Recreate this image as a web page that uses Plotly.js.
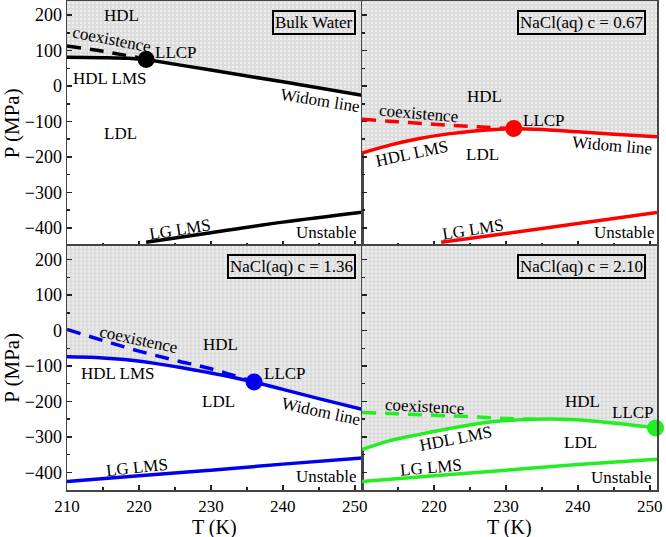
<!DOCTYPE html>
<html>
<head>
<meta charset="utf-8">
<script src="https://cdn.plot.ly/plotly-3.0.1.min.js"></script>
<style>html,body{margin:0;padding:0;background:#fff}</style>
</head>
<body>
<div id="chart" style="width:666px;height:537px"></div>
<script>
// ---- data (T in K, P in MPa) ----
const X_RANGE = [210, 251];
const Y_RANGE = [-450, 240];

// Bulk water (black)
const bulk_lms_T   = [210, 215, 219, 221];
const bulk_lms_P   = [81, 80, 78, 75];
const bulk_widom_T = [221, 230, 240, 251];
const bulk_widom_P = [75, 45, 12, -26];
const bulk_coex_T  = [210, 215, 221];
const bulk_coex_P  = [113, 98, 76];
const bulk_lg_T    = [221, 230, 240, 251];
const bulk_lg_P    = [-441, -414, -384, -356];
const bulk_llcp    = [221, 75];

// NaCl c = 0.67 (red)
const c067_lms_T   = [210, 214, 218, 222, 226, 231.1];
const c067_lms_P   = [-189, -166, -148, -135, -126, -120];
const c067_widom_T = [231.1, 236, 240, 245, 251];
const c067_widom_P = [-120, -124, -129, -136, -143];
const c067_coex_T  = [210, 215, 220, 225, 231.1];
const c067_coex_P  = [-94, -101, -108, -114, -120];
const c067_lg_T    = [221, 230, 240, 251];
const c067_lg_P    = [-441, -416, -388, -357];
const c067_llcp    = [231.1, -120];

// NaCl c = 1.36 (blue)
const c136_lms_T   = [210, 214, 218, 222, 226, 230, 233, 236];
const c136_lms_P   = [-74, -76, -82, -92, -105, -120, -132, -145];
const c136_widom_T = [236, 240, 245, 251];
const c136_widom_P = [-145, -166, -192, -222];
const c136_coex_T  = [210, 215, 220, 225, 230, 236];
const c136_coex_P  = [3, -28, -58, -84, -108, -145];
const c136_lg_T    = [210, 220, 230, 240, 251];
const c136_lg_P    = [-426, -410, -394, -377, -360];
const c136_llcp    = [236, -145];

// NaCl c = 2.10 (green)
const c210_lms_T   = [210, 214, 218, 222, 226, 230, 234, 238, 242, 246, 250.8];
const c210_lms_P   = [-336, -310, -293, -277, -263, -254, -250, -250, -255, -263, -275];
const c210_widom_T = [];
const c210_widom_P = [];
const c210_coex_T  = [210, 215, 220, 225, 230, 234];
const c210_coex_P  = [-231, -235, -239, -243, -248, -250];
const c210_lg_T    = [210, 220, 230, 240, 251];
const c210_lg_P    = [-426, -410, -394, -378, -363];
const c210_llcp    = [250.8, -275];

const panelTitles = ["Bulk Water", "NaCl(aq) c = 0.67", "NaCl(aq) c = 1.36", "NaCl(aq) c = 2.10"];
const xTicksLeft  = [210, 220, 230, 240, 250];
const xTicksRight = [220, 230, 240, 250];
const yTicks      = [200, 100, 0, -100, -200, -300, -400];
const xTitle = "T (K)";
const yTitle = "P (MPa)";

// ---- build ----
const FONT = "Liberation Serif";
const panels = [
  {c:"#000000", lmsT:bulk_lms_T, lmsP:bulk_lms_P, wT:bulk_widom_T, wP:bulk_widom_P, cT:bulk_coex_T, cP:bulk_coex_P, gT:bulk_lg_T, gP:bulk_lg_P, k:bulk_llcp, xa:"x", ya:"y"},
  {c:"#ff0000", lmsT:c067_lms_T, lmsP:c067_lms_P, wT:c067_widom_T, wP:c067_widom_P, cT:c067_coex_T, cP:c067_coex_P, gT:c067_lg_T, gP:c067_lg_P, k:c067_llcp, xa:"x2", ya:"y2"},
  {c:"#0000ee", lmsT:c136_lms_T, lmsP:c136_lms_P, wT:c136_widom_T, wP:c136_widom_P, cT:c136_coex_T, cP:c136_coex_P, gT:c136_lg_T, gP:c136_lg_P, k:c136_llcp, xa:"x3", ya:"y3"},
  {c:"#22ee22", lmsT:c210_lms_T, lmsP:c210_lms_P, wT:c210_widom_T, wP:c210_widom_P, cT:c210_coex_T, cP:c210_coex_P, gT:c210_lg_T, gP:c210_lg_P, k:c210_llcp, xa:"x4", ya:"y4"}
];

const traces = [];
panels.forEach(p => {
  const upT = p.lmsT.concat(p.wT);
  const upP = p.lmsP.concat(p.wP);
  traces.push({
    x: upT.concat([X_RANGE[1], X_RANGE[1], X_RANGE[0]]),
    y: upP.concat([upP[upP.length-1], Y_RANGE[1], Y_RANGE[1]]),
    xaxis:p.xa, yaxis:p.ya, mode:"lines", line:{width:0},
    fill:"toself", fillcolor:"#e0e0e0",
    fillpattern:{shape:".", bgcolor:"#dcdcdc", fgcolor:"#f0f0f0", size:4, solidity:0.3},
    hoverinfo:"skip", showlegend:false
  });
  traces.push({x:upT, y:upP, xaxis:p.xa, yaxis:p.ya, mode:"lines",
    line:{color:p.c, width:3.5, shape:"spline"}, showlegend:false});
  traces.push({x:p.cT, y:p.cP, xaxis:p.xa, yaxis:p.ya, mode:"lines",
    line:{color:p.c, width:3.5, dash:"14px,9px", shape:"spline"}, showlegend:false});
  traces.push({x:p.gT, y:p.gP, xaxis:p.xa, yaxis:p.ya, mode:"lines",
    line:{color:p.c, width:3.5, shape:"spline"}, showlegend:false});
  traces.push({x:[p.k[0]], y:[p.k[1]], xaxis:p.xa, yaxis:p.ya, mode:"markers",
    marker:{color:p.c, size:17}, cliponaxis:false, showlegend:false});
});

function ann(xa, ya, x, y, text, angle) {
  return {xref:xa, yref:ya, x:x, y:y, text:text, showarrow:false,
    textangle: angle||0, font:{family:FONT, size:17, color:"#000"}};
}
const A = [];
// Bulk
A.push(ann("x","y",217.6,200,"HDL"));
A.push(ann("x","y",216.2,130,"coexistence",11));
A.push(ann("x","y",225.2,96,"LLCP"));
A.push(ann("x","y",216,22,"HDL LMS"));
A.push(ann("x","y",245.2,-42,"Widom line",9));
A.push(ann("x","y",217.5,-133,"LDL"));
A.push(ann("x","y",225.7,-406,"LG LMS",-9));
A.push(ann("x","y",246,-412,"Unstable"));
// 0.67
A.push(ann("x2","y2",227,-30,"HDL"));
A.push(ann("x2","y2",217.9,-77,"coexistence",5));
A.push(ann("x2","y2",235.3,-96,"LLCP"));
A.push(ann("x2","y2",217,-189,"HDL LMS",-12));
A.push(ann("x2","y2",226.8,-192,"LDL"));
A.push(ann("x2","y2",244.8,-167,"Widom line",5));
A.push(ann("x2","y2",225.4,-406,"LG LMS",-9));
A.push(ann("x2","y2",246.4,-412,"Unstable"));
// 1.36
A.push(ann("x3","y3",219.9,-25,"coexistence",12));
A.push(ann("x3","y3",231.3,-40,"HDL"));
A.push(ann("x3","y3",217.1,-120,"HDL LMS"));
A.push(ann("x3","y3",240.3,-121,"LLCP"));
A.push(ann("x3","y3",231,-200,"LDL"));
A.push(ann("x3","y3",245.3,-228,"Widom line",12));
A.push(ann("x3","y3",219.7,-386,"LG LMS",-6));
A.push(ann("x3","y3",246,-411,"Unstable"));
// 2.10
A.push(ann("x4","y4",218.7,-214,"coexistence",3));
A.push(ann("x4","y4",240.6,-200,"HDL"));
A.push(ann("x4","y4",247.6,-231,"LLCP"));
A.push(ann("x4","y4",223.1,-306,"HDL LMS",-11));
A.push(ann("x4","y4",240.4,-317,"LDL"));
A.push(ann("x4","y4",219.6,-386,"LG LMS",-5));
A.push(ann("x4","y4",246,-416,"Unstable"));
// boxed titles
const boxPos = [["x domain","y domain",0.98],["x2 domain","y2 domain",0.963],["x3 domain","y3 domain",0.98],["x4 domain","y4 domain",0.963]];
panelTitles.forEach((t,i) => {
  A.push({xref:boxPos[i][0], yref:boxPos[i][1], x:boxPos[i][2], y:0.965, xanchor:"right", yanchor:"top",
    text:t, showarrow:false, font:{family:FONT, size:17, color:"#000"},
    bordercolor:"#000", borderwidth:2, borderpad:1});
});
// x-axis titles for bottom panels
[["x3 domain","y3 domain"],["x4 domain","y4 domain"]].forEach(r => {
  A.push({xref:r[0], yref:r[1], x:0.5, y:0, yshift:-25, xanchor:"center", yanchor:"top",
    text:xTitle, showarrow:false, borderpad:0, font:{family:FONT, size:20, color:"#000"}});
});

function xax(domain, showLabels, tickvals, anchor) {
  return {domain:domain, range:X_RANGE, anchor:anchor, showline:true, mirror:true,
    linecolor:"#444", linewidth:1.5, ticks:"inside", ticklen:5, tickwidth:1.5, tickcolor:"#222",
    tickvals:tickvals, showticklabels:showLabels, showgrid:false, zeroline:false,
    minor:{dtick:5, ticks:"inside", ticklen:3, tickwidth:1.5, tickcolor:"#222"},
    tickfont:{family:FONT, size:17, color:"#000"}};
}
function yax(domain, showLabels, anchor) {
  return {domain:domain, range:Y_RANGE, anchor:anchor, showline:true, mirror:true,
    linecolor:"#444", linewidth:1.5, ticks:"inside", ticklen:5, tickwidth:1.5, tickcolor:"#222",
    tickvals:yTicks, showticklabels:showLabels, showgrid:false, zeroline:false,
    minor:{dtick:50, ticks:"inside", ticklen:3, tickwidth:1.5, tickcolor:"#222"},
    tickfont:{family:FONT, size:18, color:"#000"},
    title: showLabels ? {text:yTitle, font:{family:FONT, size:21, color:"#000"}, standoff:4} : undefined};
}

const layout = {
  width:666, height:537,
  margin:{l:67, r:9, t:1, b:47},
  paper_bgcolor:"#fff", plot_bgcolor:"#fff",
  showlegend:false,
  xaxis:  xax([0,0.5], false, xTicksLeft, "y"),
  yaxis:  yax([0.5,1], true, "x"),
  xaxis2: xax([0.5,1], false, xTicksRight, "y2"),
  yaxis2: yax([0.5,1], false, "x2"),
  xaxis3: xax([0,0.5], true, xTicksLeft, "y3"),
  yaxis3: yax([0,0.5], true, "x3"),
  xaxis4: xax([0.5,1], true, xTicksRight, "y4"),
  yaxis4: yax([0,0.5], false, "x4"),
  annotations:A
};

Plotly.newPlot("chart", traces, layout, {displayModeBar:false, staticPlot:true});
</script>
</body>
</html>
